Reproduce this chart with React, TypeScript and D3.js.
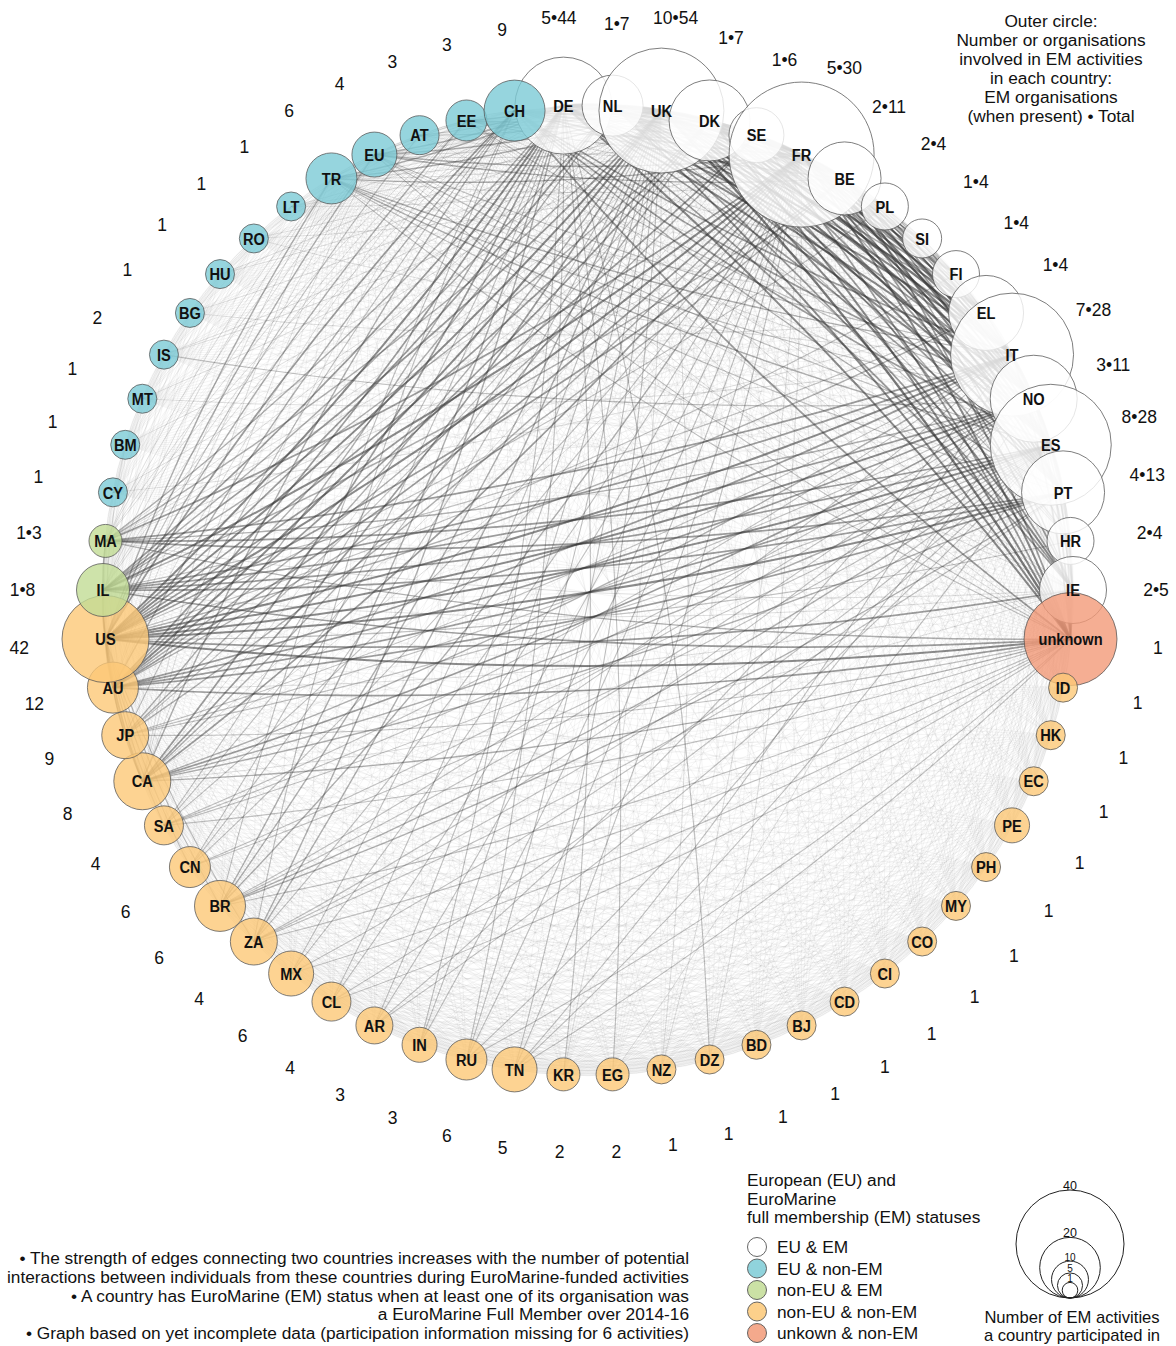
import React, { useRef, useEffect } from "react";
import * as d3 from "d3";

// nodes, clockwise from the top (DE sits just left of 12 o'clock)
const countries = [
  "DE", "NL", "UK", "DK", "SE", "FR", "BE", "PL", "SI", "FI", "EL", "IT", "NO", "ES", "PT", "HR", "IE",
  "unknown",
  "ID", "HK", "EC", "PE", "PH", "MY", "CO", "CI", "CD", "BJ", "BD", "DZ", "NZ", "EG", "KR", "TN", "RU",
  "IN", "AR", "CL", "MX", "ZA", "BR", "CN", "SA", "CA", "JP", "AU", "US",
  "IL", "MA",
  "CY", "BM", "MT", "IS", "BG", "HU", "RO", "LT", "TR", "EU", "AT", "EE", "CH",
];

// W = EU & EM, B = EU & non-EM, G = non-EU & EM, O = non-EU & non-EM, R = unknown
const statuses = [
  "W", "W", "W", "W", "W", "W", "W", "W", "W", "W", "W", "W", "W", "W", "W", "W", "W",
  "R",
  "O", "O", "O", "O", "O", "O", "O", "O", "O", "O", "O", "O", "O", "O", "O", "O", "O",
  "O", "O", "O", "O", "O", "O", "O", "O", "O", "O", "O", "O",
  "G", "G",
  "B", "B", "B", "B", "B", "B", "B", "B", "B", "B", "B", "B", "B",
];

// outer ring: EM organisations • total organisations
const orgLabels = [
  "5•44", "1•7", "10•54", "1•7", "1•6", "5•30", "2•11", "2•4", "1•4", "1•4", "1•4", "7•28", "3•11", "8•28", "4•13", "2•4", "2•5",
  "1",
  "1", "1", "1", "1", "1", "1", "1", "1", "1", "1", "1", "1", "1", "2", "2", "5", "6",
  "3", "3", "4", "6", "4", "6", "6", "4", "8", "9", "12", "42",
  "1•8", "1•3",
  "1", "1", "1", "2", "1", "1", "1", "1", "6", "4", "3", "3", "9",
];

// number of EM activities each country took part in (node size)
const activities = [
  35, 17, 49, 27, 14, 59, 23, 10, 6, 10, 24, 48, 30, 47, 28, 10, 20,
  33,
  1, 1, 1, 4, 1, 1, 1, 1, 1, 1, 1, 1, 1, 3, 3, 9, 7,
  4, 5, 6, 9, 10, 12, 7, 6, 15, 10, 12, 30,
  13, 3,
  1, 1, 1, 1, 1, 1, 1, 1, 12, 9, 6, 7, 17,
];

// large activities where every participant could meet every other one
const worldMeeting = [
  "US", "AU", "JP", "CA", "SA", "CN", "BR", "ZA", "MX", "CL", "AR", "IN", "RU", "TN", "KR", "EG", "NZ", "DZ",
  "BD", "BJ", "CD", "CI", "CO", "MY", "PH", "PE", "EC", "HK", "ID", "unknown", "UK", "DE", "FR", "IT", "ES",
  "PT", "NO", "NL", "DK", "BE", "SE", "IE", "IL", "MA", "CH", "TR", "EU", "EE",
];
const europeMeeting = [
  "DE", "NL", "UK", "DK", "SE", "FR", "BE", "PL", "SI", "FI", "EL", "IT", "NO", "ES", "PT", "HR", "IE",
  "unknown", "CH", "EE", "AT", "EU", "TR", "LT", "RO", "HU", "BG", "IS", "MT", "BM", "CY", "MA", "IL",
  "US", "AU", "CA",
];

// extra interaction strength between pairs of countries
const linkTable = [
  "UK: DE5 NL4 DK4 SE3 FR5 BE4 PL2 SI2 FI3 EL4 IT5 NO4 ES5 PT4 HR3 IE4 unknown5",
  "DE: NL4 DK4 SE3 FR5 BE3 PL3 SI2 FI2 EL3 IT4 NO4 ES4 PT3 HR2 IE3 unknown4",
  "NL: DK3 SE3 FR4 BE3 PL2 FI2 EL3 IT4 NO3 ES4 PT3 HR2 IE3 unknown4",
  "DK: SE3 FR4 BE3 PL2 FI2 EL3 IT4 NO4 ES4 PT3 IE3 unknown4",
  "SE: FR3 BE2 FI2 EL2 IT3 NO3 ES3 PT2 unknown3",
  "FR: BE4 PL3 SI2 FI2 EL3 IT4 NO4 ES5 PT4 HR3 IE3 unknown4",
  "BE: PL2 EL2 IT3 NO3 ES3 PT3 IE2 unknown3",
  "IT: PL2 SI2 EL3 NO3 ES4 PT3 HR2 IE2 unknown3",
  "ES: PL2 EL3 NO3 PT4 IE2 HR2 unknown3",
  "NO: FI2 PT3 unknown3 IE2",
  "PT: unknown3 EL2",
  "US: DE4 NL3 UK4 DK3 SE3 FR4 BE3 PL2 FI2 EL3 IT4 NO4 ES4 PT4 HR2 IE3 unknown4 CH3 AU3 CA3 JP2 IL3 TR2 EU2 EE2 AT2 MA2 BR2 ZA2 SA2 CN2",
  "AU: DE3 UK4 DK3 FR3 IT3 NO3 ES3 PT3 NL2 SE2 BE2 unknown3 CH2 CA2 JP2 IL2",
  "IL: DE3 UK3 FR4 IT3 ES3 NO3 PT3 EL2 unknown3 NL2 DK2 BE2",
  "MA: FR3 ES3 IT3 PT3 UK2 DE2 unknown2 NO2",
  "JP: UK3 DE3 FR3 NO2 ES2 IT2 unknown2 DK2 CH2",
  "CA: UK3 DE3 FR3 NO3 ES2 IT2 unknown2 DK2 PT2 CH2",
  "SA: UK2 FR2 DE2 ES2 NO2 IT2 unknown2",
  "CN: UK2 DE2 FR2 NO2 ES2",
  "BR: UK3 FR3 DE3 ES3 PT3 IT2 NO2 unknown2 CH2",
  "ZA: UK3 FR2 DE3 ES2 PT2 NO2 unknown2 CH2",
  "MX: UK2 ES2 FR2 unknown2",
  "CL: ES2 FR2 UK2 unknown2",
  "AR: ES2 FR2 UK2 IT2",
  "IN: UK2 DE2 FR2",
  "RU: UK2 DE2 NO2 FR2 unknown2",
  "TN: FR2 IT2 ES2 UK2 unknown2",
  "KR: UK1 DE2",
  "EG: DE2 IT1",
  "NZ: UK1 FR1",
  "DZ: DE2 FR1",
  "CH: DE4 UK4 FR3 IT3 ES3 NO3 NL3 DK3 PT2 unknown3 BE2 SE2",
  "TR: UK2 DE2 FR2 IT2 ES2 EL1 PT1 unknown1 NO1",
  "EU: UK2 FR2 DE2 BE2 IT1 ES1 unknown1",
  "AT: DE2 UK2 FR1 IT1 unknown1",
  "EE: UK2 DE2 FI1 SE1 NO1 DK1 FR1",
  "LT: UK1 DE1 FR1",
  "RO: UK1 FR1 IT1",
  "HU: DE1 UK1",
  "BG: UK1 EL1",
  "IS: NO2 UK1 DK1",
  "MT: IT1 UK1",
  "BM: UK1 US1",
  "CY: EL1 UK1",
];

const statusCodes = ["W", "B", "G", "O", "R"];
const statusNames = ["EU & EM", "EU & non-EM", "non-EU & EM", "non-EU & non-EM", "unkown & non-EM"];
const statusFills = ["#ffffff", "#7ccbd6", "#c2dc95", "#fcc877", "#f29a78"];

const sizeLegendValues = [40, 20, 10, 5, 1];

const ringNote = [
  "Outer circle:",
  "Number or organisations",
  "involved in EM activities",
  "in each country:",
  "EM organisations",
  "(when present) • Total",
];
const legendTitle = ["European (EU) and", "EuroMarine", "full membership (EM) statuses"];
const sizeCaption = ["Number of EM activities", "a country participated in"];
const footNotes = [
  "• The strength of edges connecting two countries increases with the number of potential",
  "interactions between individuals from these countries during EuroMarine-funded activities",
  "• A country has EuroMarine (EM) status when at least one of its organisation was",
  "a EuroMarine Full Member over 2014-16",
  "• Graph based on yet incomplete data (participation information missing for 6 activities)",
];

const FONT = "'Liberation Sans', Arial, sans-serif";

const NetworkChart = () => {
  const svgRef = useRef(null);

  useEffect(() => {
    if (!svgRef.current) return;

    const width = 1176;
    const height = 1346;
    const cx = 588;
    const cy = 590;
    const ringR = 485;

    const svg = d3.select(svgRef.current).attr("width", width).attr("height", height);
    svg.selectAll("*").remove();

    const n = countries.length;
    const step = (2 * Math.PI) / n;
    const angle = d3.scaleLinear().domain([0, n]).range([-step / 2, 2 * Math.PI - step / 2]);
    const radius = d3.scaleLinear().domain([1, 59]).range([14.5, 72.5]);
    const legendRadius = d3.scaleLinear().domain([1, 40]).range([7.8, 54]);
    const fill = d3.scaleOrdinal().domain(statusCodes).range(statusFills);

    const point = (i, r) => [cx + r * Math.sin(angle(i)), cy - r * Math.cos(angle(i))];
    const index = new Map(countries.map((c, i) => [c, i]));

    // edge weights
    const weights = new Map();
    const addLink = (a, b, w) => {
      const i = index.get(a);
      const j = index.get(b);
      if (i == null || j == null || i === j) return;
      const key = i < j ? `${i}|${j}` : `${j}|${i}`;
      weights.set(key, (weights.get(key) || 0) + w);
    };
    [worldMeeting, europeMeeting].forEach((group) => {
      for (let a = 0; a < group.length; a++)
        for (let b = a + 1; b < group.length; b++) addLink(group[a], group[b], 1);
    });
    linkTable.forEach((row) => {
      const [src, rest] = row.split(":");
      rest.trim().split(/\s+/).forEach((tok) => {
        const m = tok.match(/^(.+?)(\d+)$/);
        if (m) addLink(src.trim(), m[1], +m[2]);
      });
    });
    const edges = Array.from(weights, ([key, w]) => {
      const [i, j] = key.split("|").map(Number);
      return { i, j, w };
    }).sort((a, b) => a.w - b.w);

    const edgeOpacity = d3.scaleLinear().domain([1, 3, 8]).range([0.1, 0.3, 0.75]).clamp(true);
    const edgeWidth = d3.scaleLinear().domain([1, 8]).range([0.5, 2.6]).clamp(true);

    const edgePath = (e) => {
      const [x1, y1] = point(e.i, ringR);
      const [x2, y2] = point(e.j, ringR);
      const r = Math.hypot(x2 - x1, y2 - y1) * 4.5;
      return `M${x1},${y1}A${r},${r} 0 0,1 ${x2},${y2}`;
    };

    svg
      .append("g")
      .attr("fill", "none")
      .selectAll("path")
      .data(edges)
      .join("path")
      .attr("d", edgePath)
      .attr("stroke", "#333")
      .attr("stroke-opacity", (e) => edgeOpacity(e.w))
      .attr("stroke-width", (e) => edgeWidth(e.w));

    // nodes
    const nodes = countries.map((c, i) => {
      const [x, y] = point(i, ringR);
      return { c, i, x, y, r: radius(activities[i]), s: statuses[i] };
    });

    svg
      .append("g")
      .selectAll("circle")
      .data(nodes)
      .join("circle")
      .attr("cx", (d) => d.x)
      .attr("cy", (d) => d.y)
      .attr("r", (d) => d.r)
      .attr("fill", (d) => fill(d.s))
      .attr("fill-opacity", 0.8)
      .attr("stroke", "#555")
      .attr("stroke-opacity", 0.85)
      .attr("stroke-width", 0.9);

    // condensed bold country codes
    svg
      .append("g")
      .attr("font-family", FONT)
      .attr("font-weight", "bold")
      .attr("font-size", 17)
      .attr("text-anchor", "middle")
      .selectAll("text")
      .data(nodes)
      .join("text")
      .attr("transform", (d) => `translate(${d.x},${d.y}) scale(0.86,1)`)
      .attr("dy", "0.36em")
      .attr("fill", "#111")
      .text((d) => d.c);

    // outer ring of organisation counts, pushed out a little for big nodes
    const labelR = (d) => 556 + 0.36 * d.r;
    svg
      .append("g")
      .attr("font-family", FONT)
      .attr("font-size", 17.5)
      .attr("text-anchor", "middle")
      .selectAll("text")
      .data(nodes)
      .join("text")
      .attr("x", (d) => point(d.i, labelR(d))[0])
      .attr("y", (d) => point(d.i, labelR(d))[1])
      .attr("dy", "0.36em")
      .attr("fill", "#111")
      .text((d) => orgLabels[d.i]);

    // top-right note
    svg
      .append("g")
      .attr("font-family", FONT)
      .attr("font-size", 17.3)
      .attr("text-anchor", "middle")
      .selectAll("text")
      .data(ringNote)
      .join("text")
      .attr("x", 1051)
      .attr("y", (d, i) => 27 + i * 19)
      .attr("fill", "#111")
      .text((d) => d);

    // status legend
    const legend = svg.append("g").attr("font-family", FONT).attr("font-size", 17.3).attr("fill", "#111");
    legend
      .selectAll("text.title")
      .data(legendTitle)
      .join("text")
      .attr("class", "title")
      .attr("x", 747)
      .attr("y", (d, i) => 1186 + i * 18.5)
      .text((d) => d);
    const items = legend
      .selectAll("g.item")
      .data(statusCodes)
      .join("g")
      .attr("class", "item")
      .attr("transform", (d, i) => `translate(757,${1247 + i * 21.5})`);
    items
      .append("circle")
      .attr("r", 9.5)
      .attr("fill", (d) => fill(d))
      .attr("fill-opacity", 0.85)
      .attr("stroke", "#555")
      .attr("stroke-width", 0.9);
    items
      .append("text")
      .attr("x", 20)
      .attr("dy", "0.36em")
      .text((d, i) => statusNames[i]);

    // size legend
    const sizeLegend = svg.append("g").attr("font-family", FONT).attr("fill", "#111");
    const baseY = 1298;
    sizeLegend
      .selectAll("circle")
      .data(sizeLegendValues)
      .join("circle")
      .attr("cx", 1070)
      .attr("cy", (d) => baseY - legendRadius(d))
      .attr("r", (d) => legendRadius(d))
      .attr("fill", "none")
      .attr("stroke", "#222")
      .attr("stroke-width", 1);
    sizeLegend
      .selectAll("text.val")
      .data(sizeLegendValues)
      .join("text")
      .attr("class", "val")
      .attr("x", 1070)
      .attr("y", (d) => baseY - 2 * legendRadius(d) - 0.5)
      .attr("text-anchor", "middle")
      .attr("font-size", (d) => (d >= 20 ? 12.5 : 10))
      .text((d) => d);
    sizeLegend
      .selectAll("text.cap")
      .data(sizeCaption)
      .join("text")
      .attr("class", "cap")
      .attr("x", 1072)
      .attr("y", (d, i) => 1323 + i * 18)
      .attr("text-anchor", "middle")
      .attr("font-size", 16.6)
      .text((d) => d);

    // foot notes
    svg
      .append("g")
      .attr("font-family", FONT)
      .attr("font-size", 17.3)
      .attr("text-anchor", "end")
      .attr("fill", "#111")
      .selectAll("text")
      .data(footNotes)
      .join("text")
      .attr("x", 689)
      .attr("y", (d, i) => 1264 + i * 18.8)
      .text((d) => d);
  }, []);

  return <svg ref={svgRef} style={{ position: "absolute", left: 0, top: 0, background: "#fff" }}></svg>;
};

export default function App() {
  return <NetworkChart />;
}
